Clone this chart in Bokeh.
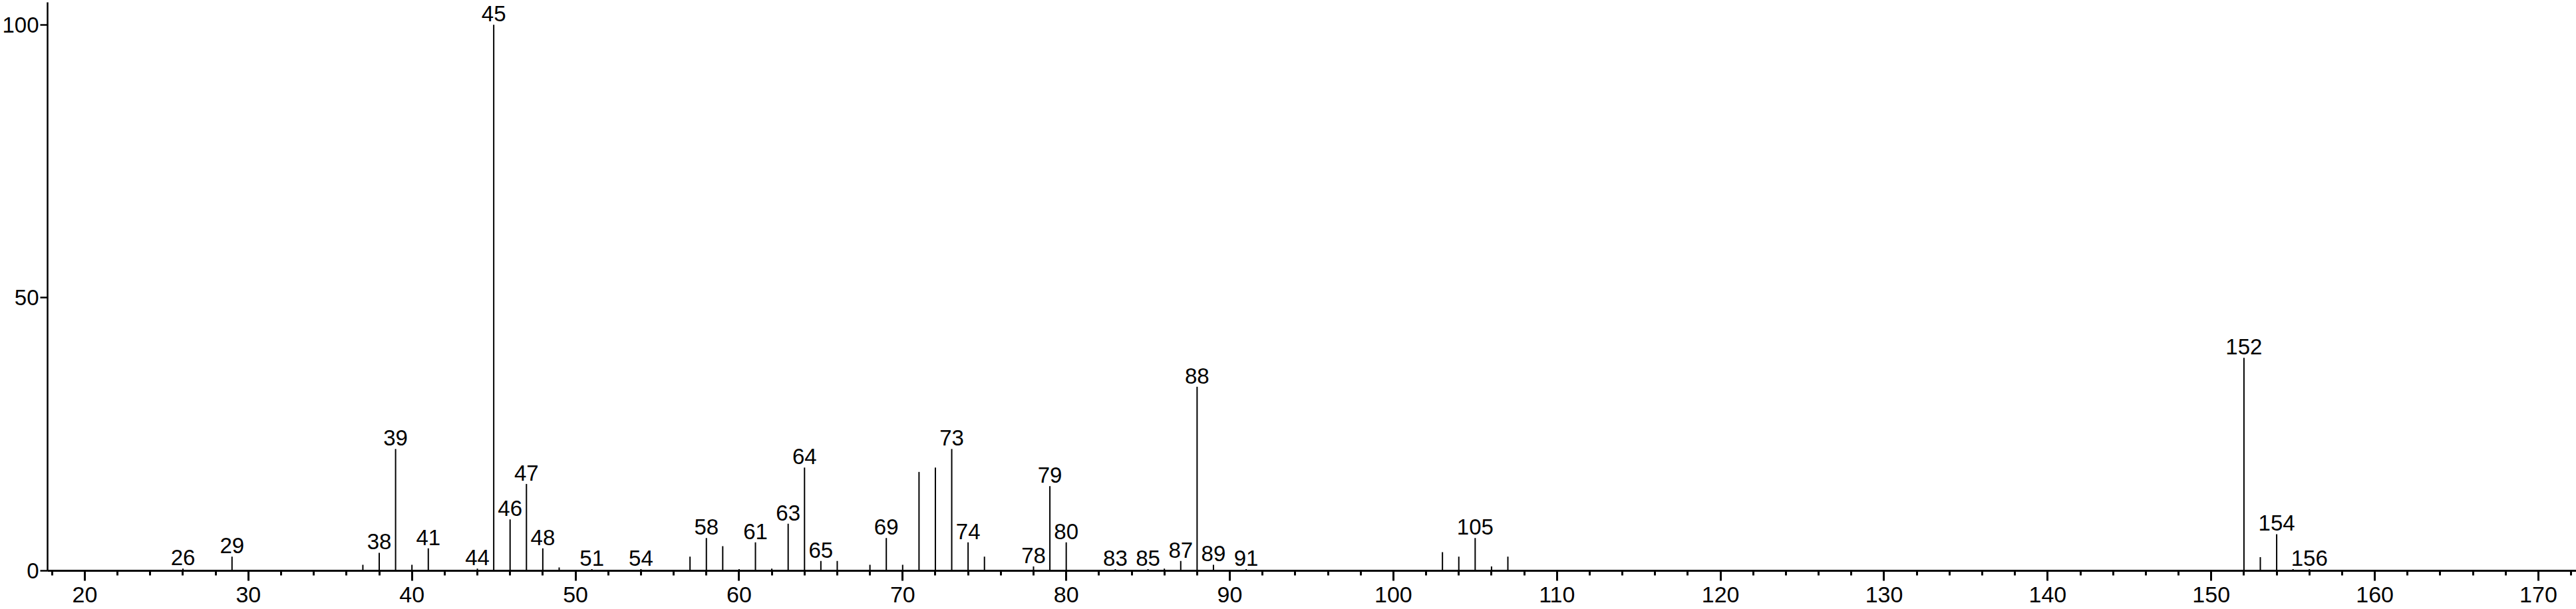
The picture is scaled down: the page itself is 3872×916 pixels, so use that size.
from bokeh.plotting import figure
from bokeh.models import ColumnDataSource, Range1d, FixedTicker
from bokeh.core.properties import value
from bokeh.embed import file_html
from bokeh.resources import INLINE

# m/z values and relative intensities
mz = [26, 29, 37, 38, 39, 40, 41, 44, 45, 46, 47, 48, 49, 51, 54,
      57, 58, 59, 60, 61, 62, 63, 64, 65, 66, 68, 69, 70, 71, 72, 73, 74, 75,
      78, 79, 80, 83, 85, 86, 87, 88, 89, 91,
      103, 104, 105, 106, 107,
      152, 153, 154, 155, 156]
intensity = [0.4, 2.6, 1.1, 3.3, 22.3, 1.1, 4.1, 0.4, 100.0, 9.4, 15.9, 4.1, 0.6, 0.3, 0.3,
             2.6, 6.0, 4.5, 0.3, 5.2, 0.4, 8.6, 18.9, 1.8, 1.8, 1.1, 6.0, 1.1, 18.1, 18.9, 22.3, 5.2, 2.6,
             0.8, 15.5, 5.2, 0.3, 0.3, 0.4, 1.8, 33.7, 1.1, 0.3,
             3.4, 2.6, 6.0, 0.8, 2.6,
             39.0, 2.5, 6.7, 0.3, 0.3]
labeled_mz = [26, 29, 38, 39, 41, 44, 45, 46, 47, 48, 51, 54, 58, 61, 63, 64, 65,
              69, 73, 74, 78, 79, 80, 83, 85, 87, 88, 89, 91, 105, 152, 154, 156]
x_ticks = [20, 30, 40, 50, 60, 70, 80, 90, 100, 110, 120, 130, 140, 150, 160, 170]
y_ticks = [0, 50, 100]

lookup = dict(zip(mz, intensity))
stems = ColumnDataSource(dict(mz=mz, zero=[0] * len(mz), inten=intensity))
labels = ColumnDataSource(dict(mz=labeled_mz,
                               inten=[lookup[m] for m in labeled_mz],
                               txt=[str(m) for m in labeled_mz]))

FONT = "Liberation Sans"

p = figure(width=3872, height=916, output_backend="svg", toolbar_location=None,
           x_range=Range1d(17.724, 172.32), y_range=Range1d(0, 104.1),
           min_border_left=69, min_border_right=0, min_border_top=3, min_border_bottom=58)
p.outline_line_color = None
p.grid.visible = False
p.background_fill_color = "white"
p.border_fill_color = "white"

p.segment(x0="mz", y0="zero", x1="mz", y1="inten", source=stems,
          line_color="black", line_width=2)
p.text(x="mz", y="inten", text="txt", source=labels,
       text_font=value(FONT), text_font_size="33px", text_color="black",
       text_align="center", text_baseline="bottom", y_offset=-5)

xa = p.xaxis[0]
xa.ticker = FixedTicker(ticks=x_ticks, minor_ticks=[v for v in range(18, 173, 2)])
xa.axis_line_width = 3
xa.axis_line_color = "black"
xa.major_tick_line_width = 3
xa.minor_tick_line_width = 3
xa.major_tick_out = 15
xa.major_tick_in = 0
xa.minor_tick_out = 7
xa.minor_tick_in = 0
xa.major_label_text_font = FONT
xa.major_label_text_font_size = "34px"
xa.major_label_text_color = "black"
xa.major_label_standoff = 9

ya = p.yaxis[0]
ya.ticker = FixedTicker(ticks=y_ticks, minor_ticks=[])
ya.axis_line_width = 2.5
ya.axis_line_color = "black"
ya.major_tick_line_width = 2.5
ya.major_tick_out = 11
ya.major_tick_in = 0
ya.minor_tick_out = 0
ya.minor_tick_in = 0
ya.major_label_text_font = FONT
ya.major_label_text_font_size = "33px"
ya.major_label_text_color = "black"
ya.major_label_standoff = 2

open("out.html", "w").write(file_html(p, INLINE))
